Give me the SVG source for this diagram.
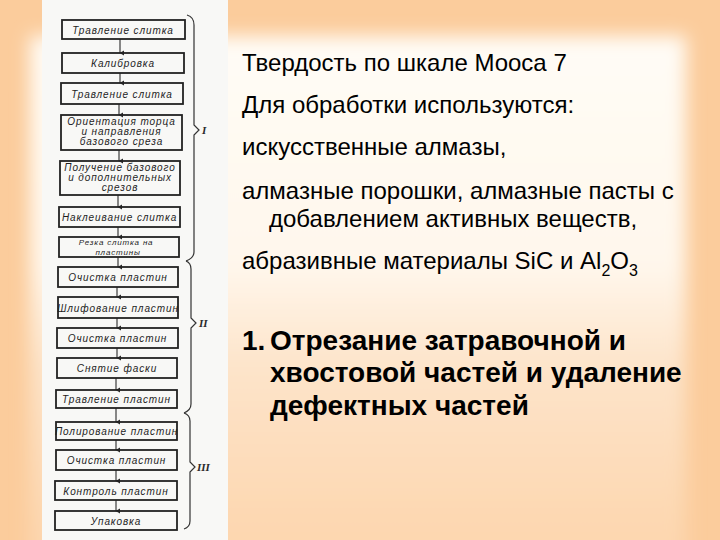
<svg xmlns="http://www.w3.org/2000/svg" width="720" height="540" viewBox="0 0 720 540">
<defs>
<linearGradient id="vg" x1="0" y1="0" x2="0" y2="1">
<stop offset="0" stop-color="#FFFCF6"/>
<stop offset="0.38" stop-color="#FFF7EC"/>
<stop offset="0.55" stop-color="#FDE4CA"/>
<stop offset="0.8" stop-color="#FDD8B2"/>
<stop offset="1" stop-color="#FCD2A6"/>
</linearGradient>
<filter id="soft" x="-10%" y="-10%" width="120%" height="120%">
<feGaussianBlur stdDeviation="9"/>
</filter>
<marker id="ah" markerWidth="6" markerHeight="6" refX="3" refY="5" orient="auto" markerUnits="userSpaceOnUse">
<path d="M0.5,1 L3,5.5 L5.5,1 Z" fill="#2a2a2a"/>
</marker>
<style>
.box{fill:none;stroke:#222;stroke-width:1.8}
.bt{font-family:"Liberation Sans",Arial,sans-serif;font-style:italic;font-size:10px;letter-spacing:0.9px;fill:#1e1e1e;text-anchor:middle}
.sm{font-size:8px;letter-spacing:0.8px}
.con{stroke:#2a2a2a;stroke-width:1.1;fill:none}
.br{stroke:#333;stroke-width:1.2;fill:none}
.rn{font-family:"Liberation Serif","Times New Roman",serif;font-style:italic;font-weight:bold;font-size:11px;fill:#2a2a2a}
.t{font-family:"Liberation Sans",Arial,sans-serif;font-size:24px;fill:#000}
.tb{font-family:"Liberation Sans",Arial,sans-serif;font-size:28px;font-weight:bold;fill:#000}
</style>
</defs>
<rect width="720" height="540" fill="#FBCC9C"/>
<rect x="30" y="36" width="656" height="600" fill="url(#vg)" filter="url(#soft)"/>
<rect x="42" y="0" width="186" height="540" fill="#F8F8F6"/>

<g id="connectors">
<line class="con" x1="120" y1="39" x2="120" y2="53" marker-end="url(#ah)"/>
<line class="con" x1="120" y1="73" x2="120" y2="83" marker-end="url(#ah)"/>
<line class="con" x1="119" y1="104" x2="119" y2="115" marker-end="url(#ah)"/>
<line class="con" x1="119" y1="150" x2="119" y2="161" marker-end="url(#ah)"/>
<line class="con" x1="118" y1="195" x2="118" y2="207" marker-end="url(#ah)"/>
<line class="con" x1="118" y1="227" x2="118" y2="237" marker-end="url(#ah)"/>
<line class="con" x1="118" y1="257" x2="118" y2="267" marker-end="url(#ah)"/>
<line class="con" x1="117" y1="287" x2="117" y2="297" marker-end="url(#ah)"/>
<line class="con" x1="117" y1="318" x2="117" y2="328" marker-end="url(#ah)"/>
<line class="con" x1="117" y1="348" x2="117" y2="358" marker-end="url(#ah)"/>
<line class="con" x1="116" y1="378" x2="116" y2="390" marker-end="url(#ah)"/>
<line class="con" x1="116" y1="408" x2="116" y2="422" marker-end="url(#ah)"/>
<line class="con" x1="116" y1="440" x2="116" y2="450" marker-end="url(#ah)"/>
<line class="con" x1="116" y1="470" x2="116" y2="481" marker-end="url(#ah)"/>
<line class="con" x1="116" y1="500" x2="116" y2="511" marker-end="url(#ah)"/>
</g>

<g id="n1"><rect class="box" x="62" y="20" width="123" height="19"/><text class="bt" x="123" y="33.5">Травление слитка</text></g>
<g id="n2"><rect class="box" x="62" y="53" width="122" height="20"/><text class="bt" x="123" y="67">Калибровка</text></g>
<g id="n3"><rect class="box" x="61" y="83" width="122" height="21"/><text class="bt" x="122" y="97.5">Травление слитка</text></g>
<g id="n4"><rect class="box" x="61" y="115" width="121" height="35"/><text class="bt" x="121.5" y="125">Ориентация торца</text><text class="bt" x="121.5" y="135">и направления</text><text class="bt" x="121.5" y="145">базового среза</text></g>
<g id="n5"><rect class="box" x="60" y="161" width="120" height="34"/><text class="bt" x="120" y="171">Получение базового</text><text class="bt" x="120" y="181">и дополнительных</text><text class="bt" x="120" y="191">срезов</text></g>
<g id="n6"><rect class="box" x="59" y="207" width="121" height="20"/><text class="bt" x="119.5" y="221">Наклеивание слитка</text></g>
<g id="n7"><rect class="box" x="59" y="237" width="120" height="20"/><text class="bt sm" x="116" y="245">Резка слитка на</text><text class="bt sm" x="118" y="254.5">пластины</text></g>
<g id="n8"><rect class="box" x="58" y="267" width="120" height="20"/><text class="bt" x="118" y="281">Очистка пластин</text></g>
<g id="n9"><rect class="box" x="58" y="297" width="120" height="21"/><text class="bt" x="118" y="311.5">Шлифование пластин</text></g>
<g id="n10"><rect class="box" x="57" y="328" width="121" height="20"/><text class="bt" x="117.5" y="342">Очистка пластин</text></g>
<g id="n11"><rect class="box" x="57" y="358" width="120" height="20"/><text class="bt" x="117" y="372">Снятие фаски</text></g>
<g id="n12"><rect class="box" x="56" y="390" width="121" height="18"/><text class="bt" x="116.5" y="403">Травление пластин</text></g>
<g id="n13"><rect class="box" x="56" y="422" width="121" height="18"/><text class="bt" x="116.5" y="435">Полирование пластин</text></g>
<g id="n14"><rect class="box" x="56" y="450" width="121" height="20"/><text class="bt" x="116.5" y="464">Очистка пластин</text></g>
<g id="n15"><rect class="box" x="55" y="481" width="122" height="19"/><text class="bt" x="116" y="494.5">Контроль пластин</text></g>
<g id="n16"><rect class="box" x="55" y="511" width="122" height="19"/><text class="bt" x="116" y="524.5">Упаковка</text></g>

<g id="brackets">
<path class="br" d="M187,15 Q194,17 194,25 L194,125 L199,130 L194,135 L194,252 Q194,258 186,261"/>
<path class="br" d="M186,261 Q191,263 191,269 L191,318 L196,323 L191,328 L191,404 Q191,410 184,413"/>
<path class="br" d="M184,413 Q190,415 190,421 L190,462 L195,467 L190,472 L190,521 Q190,527 184,529"/>
<text class="rn" x="202" y="134">I</text>
<text class="rn" x="199" y="327">II</text>
<text class="rn" x="197" y="471">III</text>
</g>

<g id="text">
<text class="t" x="242" y="71">Твердость по шкале Мооса 7</text>
<text class="t" x="242" y="113">Для обработки используются:</text>
<text class="t" x="242" y="155">искусственные алмазы,</text>
<text class="t" x="242" y="199">алмазные порошки, алмазные пасты с</text>
<text class="t" x="269" y="227">добавлением активных веществ,</text>
<text class="t" x="242" y="269">абразивные материалы SiC и Al<tspan font-size="16" dy="7">2</tspan><tspan dy="-7">O</tspan><tspan font-size="16" dy="7">3</tspan></text>
<text class="tb" x="242" y="350">1.</text>
<text class="tb" x="270" y="350">Отрезание затравочной и</text>
<text class="tb" x="270" y="382">хвостовой частей и удаление</text>
<text class="tb" x="270" y="415">дефектных частей</text>
</g>
</svg>
